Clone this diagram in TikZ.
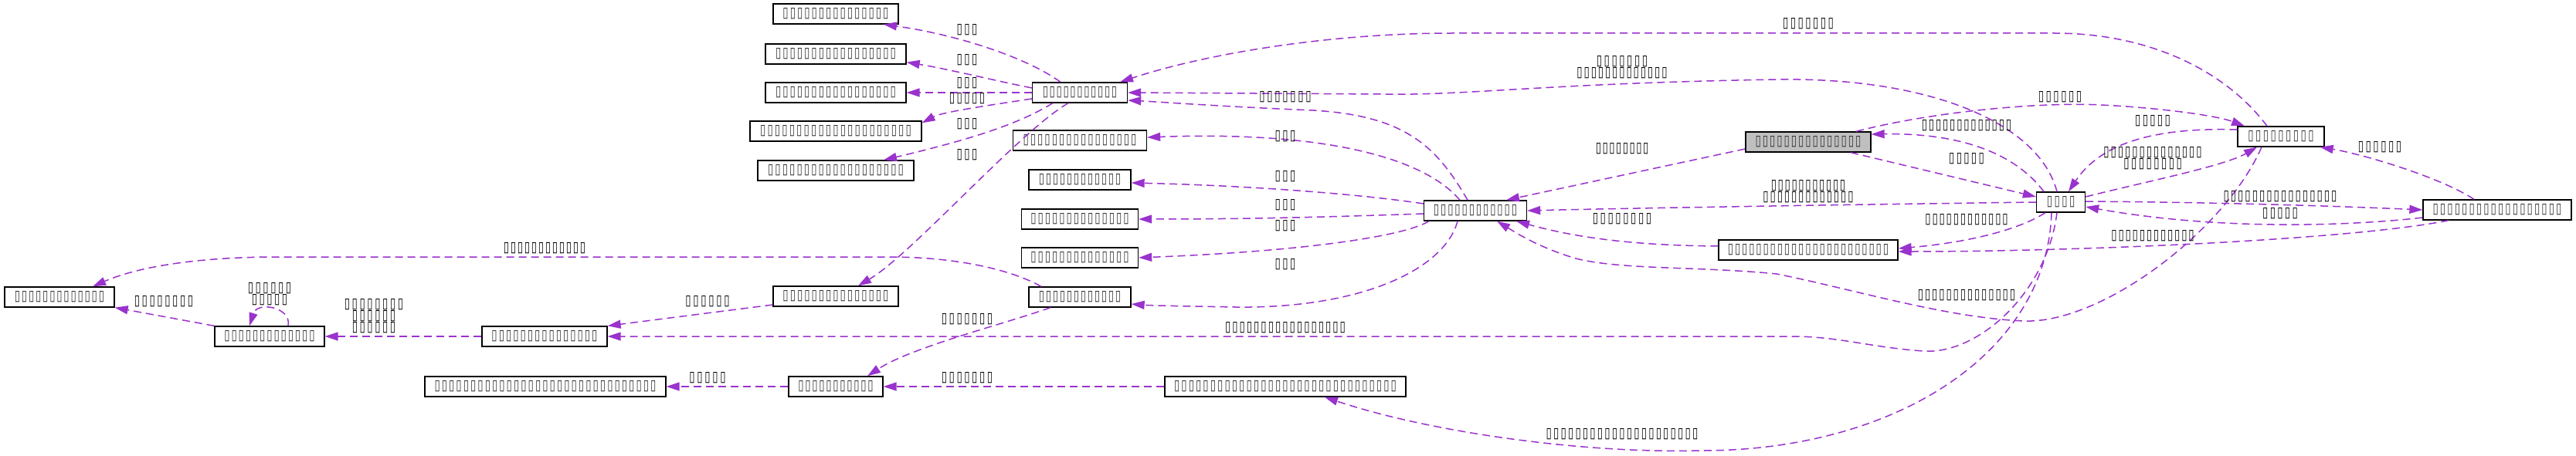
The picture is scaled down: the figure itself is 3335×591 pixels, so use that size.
\documentclass[tikz,border=0pt]{standalone}
\usepackage{fontspec}
\setmainfont{DejaVu Sans}
\usetikzlibrary{arrows.meta}
\definecolor{purp}{HTML}{9A32CD}
\definecolor{greyfill}{HTML}{BFBFBF}
\definecolor{tofuc}{HTML}{303030}
% #1 = number of glyphs, #2 = total text width (pt)
\newcommand\tfw[2]{\pgfmathsetmacro\tfpitch{#2/#1}\foreach\i in{1,...,#1}{\makebox[\tfpitch pt]{\resizebox{7.3pt}{12pt}{\bfseries ▯}}}}
\begin{document}
\begin{tikzpicture}[x=1pt,y=-1pt,
  cls/.style={draw=black, fill=white, line width=1.3pt, minimum height=26pt, inner sep=0pt, text=tofuc},
  lbl/.style={inner sep=0pt, align=center, font=\fontsize{12}{15}\selectfont, text=black},
  dep/.style={draw=purp, dash pattern=on 10pt off 6pt, line width=1.5pt, -{Triangle[length=17pt,width=11pt]}}]
\useasboundingbox[fill=white] (0,0) rectangle (3335,591);
% nodes
\node[cls, minimum width=162pt] (N1) at (1082,18) {\tfw{15}{139}};
\node[cls, minimum width=182pt] (N2) at (1082,70) {\tfw{17}{158}};
\node[cls, minimum width=182pt] (N3) at (1082,120) {\tfw{17}{158}};
\node[cls, minimum width=222pt] (N4) at (1082,170) {\tfw{21}{198}};
\node[cls, minimum width=202pt] (N5) at (1082,221) {\tfw{19}{178}};
\node[cls, minimum width=123pt] (A) at (1398,120) {\tfw{11}{98}};
\node[cls, minimum width=173pt] (N6) at (1398,182) {\tfw{16}{149}};
\node[cls, minimum width=132pt] (N7) at (1398,233) {\tfw{12}{108}};
\node[cls, minimum width=151pt] (N8) at (1398,284) {\tfw{14}{129}};
\node[cls, minimum width=133pt] (B) at (1910,273) {\tfw{12}{110}};
\node[cls, minimum width=162pt, fill=greyfill] (C) at (2341,184) {\tfw{15}{139}};
\node[cls, minimum width=112pt] (D) at (2953,177) {\tfw{9}{88}};
\node[cls, minimum width=63pt] (E) at (2668,262) {\tfw{4}{39}};
\node[cls, minimum width=192pt] (F) at (3233,272) {\tfw{18}{169}};
\node[cls, minimum width=142pt] (G) at (77,385) {\tfw{13}{118}};
\node[cls, minimum width=142pt] (H) at (349,436) {\tfw{13}{119}};
\node[cls, minimum width=162pt] (I) at (705,436) {\tfw{15}{139}};
\node[cls, minimum width=162pt] (J) at (1082,384) {\tfw{15}{139}};
\node[cls, minimum width=312pt] (K) at (706,501) {\tfw{31}{289}};
\node[cls, minimum width=122pt] (L) at (1082,501) {\tfw{11}{99}};
\node[cls, minimum width=151pt] (M) at (1398,334) {\tfw{14}{129}};
\node[cls, minimum width=132pt] (Q) at (1398,385) {\tfw{12}{108}};
\node[cls, minimum width=312pt] (O) at (1664,501) {\tfw{31}{290}};
\node[cls, minimum width=232pt] (P) at (2341,324) {\tfw{23}{210}};
% edges
\draw[dep] ([xshift=-25pt]A.north) .. controls (1330,75) and (1240,45) .. ([xshift=62pt]N1.south);
\draw[dep] ([yshift=6pt]A.west) .. controls (1290,105) and (1230,90) .. ([yshift=3pt]N2.south east);
\draw[dep] (A.west) -- (N3.east);
\draw[dep] ([yshift=-8pt]A.west) .. controls (1290,135) and (1220,145) .. ([yshift=-3pt]N4.north east);
\draw[dep] ([xshift=-35pt]A.south) .. controls (1320,160) and (1260,180) .. ([xshift=62pt]N5.north);
\draw[dep] ([xshift=-15pt]A.south) .. controls (1320,170) and (1180,330) .. ([xshift=29pt]J.north);
\draw[dep] ([xshift=-10pt]B.north) .. controls (1860,190) and (1820,150) .. (1700,143) .. controls (1580,138) and (1500,132) .. ([yshift=-10pt]A.east);
\draw[dep] ([xshift=-18pt]D.north) .. controls (2880,90) and (2780,43) .. (2660,43) -- (1880,43) .. controls (1720,43) and (1560,70) .. ([xshift=52pt]A.north);
\draw[dep] ([xshift=-5pt]E.north) .. controls (2640,160) and (2500,100) .. (2300,103) .. controls (2000,108) and (1900,124) .. (1790,122) -- (A.east);
\draw[dep] ([yshift=-9pt]C.west) -- ([xshift=40pt]B.north);
\draw[dep] (E.west) .. controls (2400,265) and (2100,270) .. (B.east);
\draw[dep] ([xshift=-22pt]E.north) .. controls (2610,200) and (2540,172) .. ([yshift=10pt]C.east);
\draw[dep] ([xshift=55pt]C.south) -- ([yshift=7pt]E.west);
\draw[dep] ([xshift=62pt]C.north) .. controls (2500,145) and (2640,132) .. (2720,136) .. controls (2800,140) and (2870,150) .. ([xshift=-47pt]D.north);
\draw[dep] ([yshift=9pt]D.west) .. controls (2790,165) and (2720,185) .. ([xshift=10pt]E.north);
\draw[dep] ([yshift=7pt]E.east) .. controls (2780,235) and (2880,215) .. ([xshift=-31pt]D.south);
\draw[dep] ([yshift=1pt]E.east) .. controls (2850,262) and (3000,266) .. (F.west);
\draw[dep] ([yshift=-10pt]F.west) .. controls (3050,292) and (2880,300) .. ([yshift=-6pt]E.east);
\draw[dep] ([xshift=-30pt]F.north) .. controls (3160,230) and (3060,200) .. ([xshift=-6pt]D.south east);
\draw[dep] ([xshift=-63pt]F.south) .. controls (3050,310) and (2700,326) .. ([yshift=-2pt]P.east);
\draw[dep] ([xshift=-20pt]E.south) .. controls (2610,300) and (2540,315) .. ([yshift=2pt]P.east);
\draw[dep] ([yshift=5pt]P.west) .. controls (2100,318) and (2030,305) .. ([xshift=53pt]B.south);
\draw[dep] ([xshift=-25pt]D.south) .. controls (2880,300) and (2720,420) .. (2620,416) .. controls (2520,412) and (2400,375) .. (2300,355) .. controls (2200,345) and (2100,350) .. (2040,335) .. controls (1990,320) and (1960,300) .. ([xshift=28pt]B.south);
\draw[dep] ([xshift=-5pt]E.south) .. controls (2650,380) and (2560,460) .. (2490,455) .. controls (2420,450) and (2380,436) .. (2320,436) -- (I.east);
\draw[dep] ([xshift=-12pt]E.south) .. controls (2650,460) and (2450,585) .. (2200,584) .. controls (2050,588) and (1850,560) .. ([xshift=51pt]O.south);
\draw[dep] ([xshift=-20pt]B.north) .. controls (1840,200) and (1700,170) .. ([yshift=4pt]N6.east);
\draw[dep] ([yshift=9pt]B.west) .. controls (1750,250) and (1600,240) .. ([yshift=-4pt]N7.east);
\draw[dep] ([yshift=-4pt]B.west) .. controls (1700,282) and (1600,284) .. (N8.east);
\draw[dep] ([xshift=-60pt]B.south) .. controls (1820,305) and (1700,325) .. (M.east);
\draw[dep] ([xshift=-23pt]B.south) .. controls (1870,350) and (1760,400) .. (1600,398) .. controls (1540,397) and (1490,396) .. ([yshift=-9pt]Q.east);
\draw[dep] ([xshift=-38pt]Q.south) .. controls (1300,420) and (1180,450) .. ([xshift=41pt]L.north);
\draw[dep] ([xshift=-50pt]Q.north) .. controls (1310,350) and (1240,333) .. (1150,333) -- (360,333) .. controls (260,333) and (180,345) .. ([xshift=43pt]G.north);
\draw[dep] (H.north west) -- (G.south east);
\draw[dep] ([xshift=24pt]H.north) .. controls (378,398) and (333,390) .. ([xshift=-26pt]H.north);
\draw[dep] (I.west) -- (H.east);
\draw[dep] ([yshift=-11pt]J.west) -- (I.north east);
\draw[dep] (L.west) -- (K.east);
\draw[dep] (O.west) -- (L.east);
% labels
\node[lbl] (l1) at (1252,39) {\tfw{3}{29}};
\node[lbl] (l2) at (1252,78) {\tfw{3}{29}};
\node[lbl] (l3) at (1252,108) {\tfw{3}{29}};
\node[lbl] (l4) at (1252,128) {\tfw{5}{49}};
\node[lbl] (l5) at (1252,161) {\tfw{3}{29}};
\node[lbl] (l6) at (1252,201) {\tfw{3}{29}};
\node[lbl] (l7) at (1664,126) {\tfw{7}{70}};
\node[lbl] (l8) at (2341,31) {\tfw{7}{68}};
\node[lbl] (l9) at (2100,87) {\tfw{7}{69}\\\tfw{13}{119}};
\node[lbl] (l10) at (2100,193) {\tfw{8}{70}};
\node[lbl] (l11) at (2341,248) {\tfw{11}{98}\\\tfw{13}{119}};
\node[lbl] (l12) at (2546,163) {\tfw{13}{118}};
\node[lbl] (l13) at (2546,206) {\tfw{5}{48}};
\node[lbl] (l14) at (2667,126) {\tfw{6}{59}};
\node[lbl] (l15) at (2787,157) {\tfw{5}{48}};
\node[lbl] (l16) at (2787,205) {\tfw{14}{129}\\\tfw{8}{78}};
\node[lbl] (l17) at (2952,255) {\tfw{16}{149}};
\node[lbl] (l18) at (2952,277) {\tfw{5}{48}};
\node[lbl] (l19) at (3081,191) {\tfw{6}{59}};
\node[lbl] (l20) at (2787,306) {\tfw{12}{109}};
\node[lbl] (l21) at (2546,285) {\tfw{12}{109}};
\node[lbl] (l22) at (2100,284) {\tfw{8}{79}};
\node[lbl] (l23) at (2546,383) {\tfw{14}{128}};
\node[lbl] (l24) at (1664,425) {\tfw{17}{158}};
\node[lbl] (l25) at (2100,563) {\tfw{21}{199}};
\node[lbl] (l26) at (1664,177) {\tfw{3}{29}};
\node[lbl] (l27) at (1664,229) {\tfw{3}{29}};
\node[lbl] (l28) at (1664,266) {\tfw{3}{29}};
\node[lbl] (l29) at (1664,293) {\tfw{3}{29}};
\node[lbl] (l30) at (1664,343) {\tfw{3}{29}};
\node[lbl] (l31) at (1252,414) {\tfw{7}{69}};
\node[lbl] (l32) at (705,322) {\tfw{12}{108}};
\node[lbl] (l33) at (212,391) {\tfw{8}{79}};
\node[lbl] (l34) at (349,381) {\tfw{6}{59}\\\tfw{5}{49}};
\node[lbl] (l35) at (484,410) {\tfw{8}{79}\\\tfw{6}{59}\\\tfw{6}{59}};
\node[lbl] (l36) at (916,391) {\tfw{6}{60}};
\node[lbl] (l37) at (916,490) {\tfw{5}{50}};
\node[lbl] (l38) at (1252,490) {\tfw{7}{69}};
\end{tikzpicture}
\end{document}
